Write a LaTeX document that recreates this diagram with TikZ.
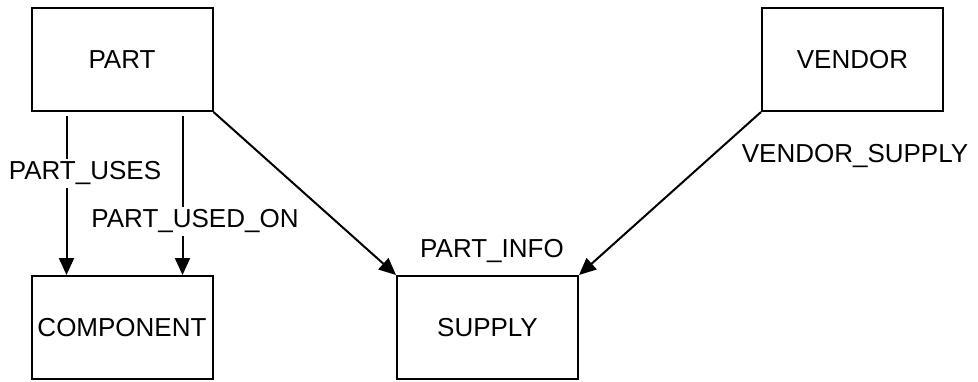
\documentclass[tikz,border=0pt]{standalone}
\usepackage{fontspec}
\setmainfont{Liberation Sans}
\usetikzlibrary{arrows.meta, positioning}

\tikzset{
	entity/.style={draw, line width=2pt, minimum width=181pt, minimum height=103pt, inner sep=0pt, font=\fontsize{26}{30}\selectfont},
	rel/.style={font=\fontsize{26}{30}\selectfont, inner sep=3pt},
	link/.style={line width=2pt, -{Triangle[width=15pt,length=17pt]}},
}

\begin{document}
\begin{tikzpicture}[x=1pt, y=-1pt]
		\useasboundingbox (0,0) rectangle (978,381);
		\node[entity] (part) at (122,59.5) {PART};
		\node[entity] (component) at (122,327.5) {COMPONENT};
		\node[entity] (supply) at (487.5,327.5) {SUPPLY};
		\node[entity] (vendor) at (852.5,59.5) {VENDOR};
		\draw[link]
		([xshift=36pt,yshift=-4pt]part.south west) -- node[rel, fill=white, pos=0.36, xshift=18.5pt] (uses) {PART\_USES} ([xshift=36pt]component.north west);
		\draw[link]
		([xshift=-31pt,yshift=-4pt]part.south east) -- node[rel, fill=white, pos=0.663, xshift=12.5pt] (usedon) {PART\_USED\_ON} ([xshift=-31pt]component.north east);
		\draw[link]
		(part.south east) -- node[rel, at end, xshift=96pt, yshift=23.5pt] (info) {PART\_INFO} (supply.north west);
		\draw[link]
		(vendor.south west) -- node[rel, at start, xshift=94pt, yshift=-44pt] (vsupply) {VENDOR\_SUPPLY} (supply.north east);
\end{tikzpicture}
\end{document}
